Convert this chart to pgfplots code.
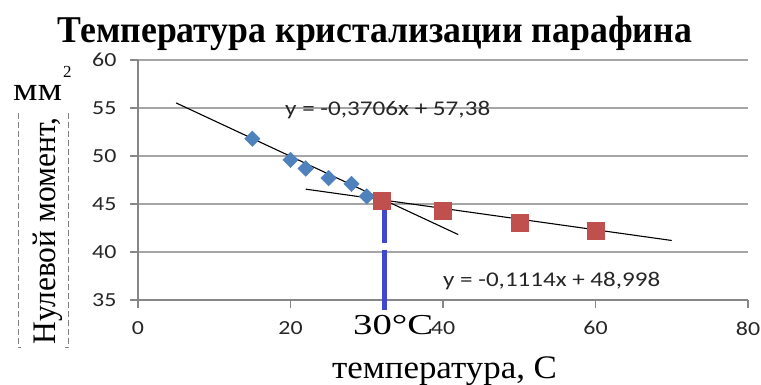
\documentclass[border=0pt]{standalone}
\usepackage{pgfplots}
\pgfplotsset{compat=1.18}
\usepackage{fontspec}
\setmainfont{Liberation Serif}
\newfontfamily\calibri{Carlito}
\newfontfamily\calibriwide[FakeStretch=1.2]{Carlito}

\definecolor{diamondblue}{HTML}{4F81BD}
\definecolor{squarered}{HTML}{C0504D}
\definecolor{markerline}{HTML}{3F48CC}
\definecolor{gridgray}{HTML}{A6A6A6}
\definecolor{axisgray}{HTML}{868686}

\begin{document}
\begin{tikzpicture}
\path[use as bounding box] (0,0) rectangle (761bp,-385bp);

\begin{axis}[
  at={(138bp,-300bp)}, anchor=south west,
  width=610bp, height=240bp, scale only axis,
  xmin=0, xmax=80, ymin=35, ymax=60,
  xtick={0,20,40,60,80}, ytick={35,40,45,50,55,60},
  axis x line*=bottom, axis y line*=left,
  axis line style={axisgray, line width=1.3bp, -},
  ymajorgrids, grid style={gridgray, line width=1.3bp},
  tick style={axisgray, line width=1.3bp},
  tick align=outside, major tick length=8bp,
  clip=false,
  /pgf/number format/assume math mode=true,
  ticklabel style={font=\calibriwide\fontsize{20}{20}\selectfont, text=black!85},
  xticklabel style={yshift=-10bp},
  yticklabel style={xshift=-10bp},
]
% measured points below the crystallisation temperature
\addplot[only marks, mark=square*, mark size=5.5bp,
  mark options={rotate=45, fill=diamondblue, draw=diamondblue}]
  coordinates {(15,51.8) (20,49.6) (22,48.7) (25,47.7) (28,47.1) (30,45.8)};
% measured points above it
\addplot[only marks, mark=square*, mark size=8.5bp,
  mark options={fill=squarered, draw=squarered}]
  coordinates {(32,45.3) (40,44.3) (50,43.1) (60,42.2)};
% linear trend lines
\addplot[black, line width=1.1bp] coordinates {(5,55.527) (42,41.815)};
\addplot[black, line width=1.1bp] coordinates {(22,46.547) (70,41.200)};
% intersection marker
\addplot[markerline, line width=4.5bp] coordinates {(32.34,45.4) (32.34,40.9)};
\addplot[markerline, line width=4.5bp] coordinates {(32.34,40.2) (32.34,34.0)};
\end{axis}

\node[anchor=base, inner sep=0] at (375bp,-42bp)
  {\resizebox{634bp}{\height}{\fontsize{38}{38}\selectfont\bfseries Температура кристализации парафина}};

\node[anchor=base, rotate=90, inner sep=0] at (55bp,-231bp)
  {\resizebox{227bp}{\height}{\fontsize{33}{33}\selectfont Нулевой момент,}};
\node[anchor=base west, inner sep=0] at (13bp,-100bp)
  {\resizebox{49bp}{\height}{\fontsize{33}{33}\selectfont мм}};
\node[anchor=base west, inner sep=0] at (63bp,-77bp) {\fontsize{17}{17}\selectfont 2};
\draw[gray, dash pattern=on 6bp off 3bp, line width=1bp]
  (18bp,-113bp) -- (18bp,-347bp) -- (21bp,-347bp);
\draw[gray, dash pattern=on 6bp off 3bp, line width=1bp]
  (68bp,-113bp) -- (68bp,-347bp) -- (65bp,-347bp);

\node[anchor=base west, inner sep=0] at (353bp,-334bp)
  {\resizebox{80bp}{\height}{\fontsize{29}{29}\selectfont 30°C}};
\node[anchor=base, inner sep=0] at (444.5bp,-378bp)
  {\resizebox{225bp}{\height}{\fontsize{33}{33}\selectfont температура, С}};

\node[anchor=base west, inner sep=0, text=black!85] at (285bp,-115bp)
  {\resizebox{205bp}{\height}{\calibri\fontsize{21}{21}\selectfont y = -0,3706x + 57,38}};
\node[anchor=base west, inner sep=0, text=black!85] at (443bp,-286bp)
  {\resizebox{217bp}{\height}{\calibri\fontsize{21}{21}\selectfont y = -0,1114x + 48,998}};
\end{tikzpicture}
\end{document}
